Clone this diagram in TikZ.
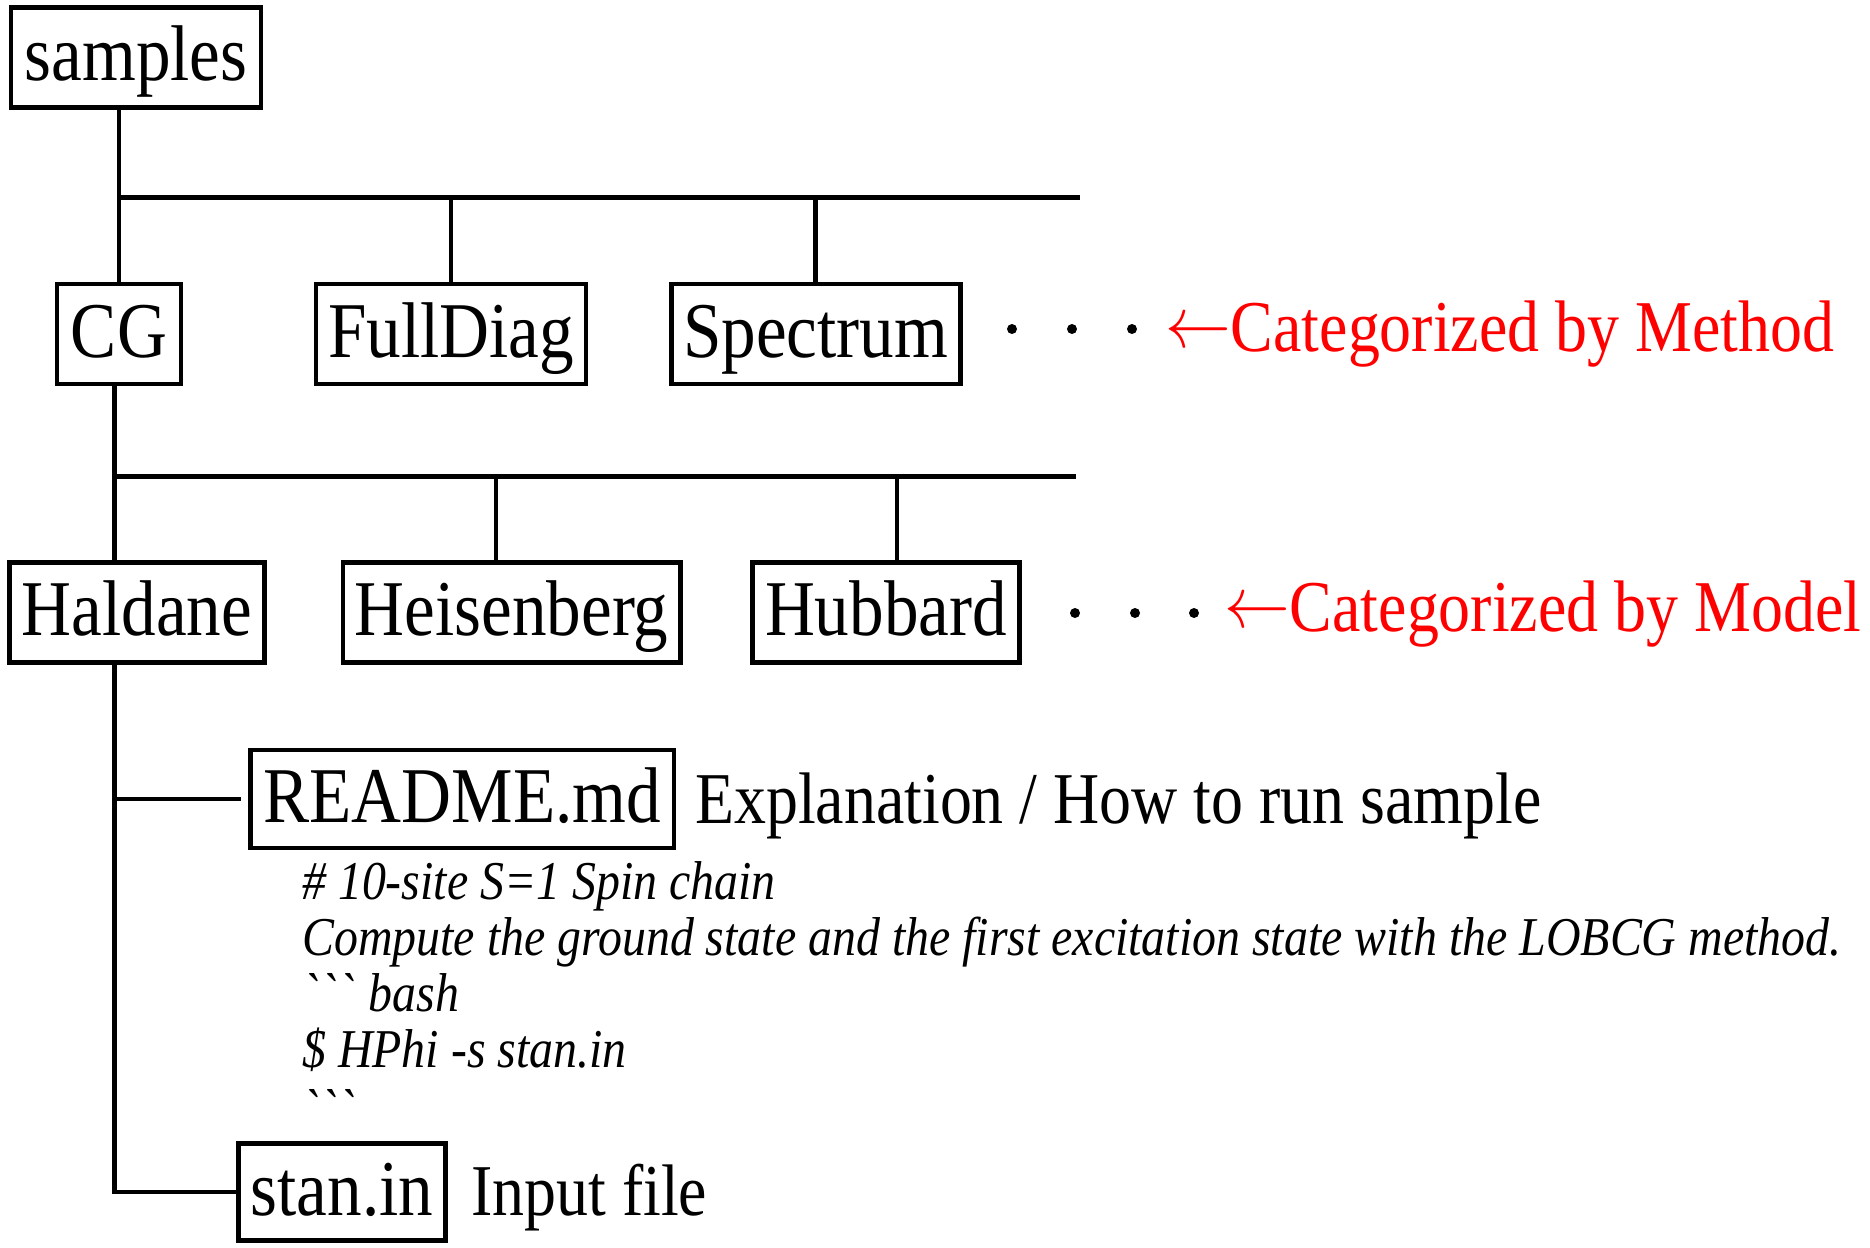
\RequirePackage{fix-cm}
\documentclass[tikz,border=0pt]{standalone}
\usepackage{graphicx}
\usepackage{fontspec}
\setmainfont[FakeStretch=0.875]{Liberation Serif}
\newcommand\boxfnt{\fontsize{79}{88}\selectfont}
\newcommand\lblfnt{\fontsize{73}{82}\selectfont}
\newcommand\mdfnt{\fontsize{54.7}{62}\selectfont\itshape}
\newcommand\larrow{\raisebox{4pt}{\scalebox{0.9}[1]{$\leftarrow$}}}
\begin{document}
\begin{tikzpicture}[x=1pt,y=-1pt,
 fbox/.style={draw, line width=4.8pt, inner xsep=0pt, inner ysep=0pt, font=\boxfnt,
   text height=62pt, text depth=16pt, minimum height=100pt, anchor=center},
 conn/.style={line width=4.6pt},
 busline/.style={line width=5pt},
 lbl/.style={font=\lblfnt, anchor=base west, inner sep=0pt},
 redlbl/.style={lbl, text=red},
 mdline/.style={font=\mdfnt, anchor=base west, inner sep=0pt},
 dotnode/.style={circle, fill, inner sep=0pt, minimum size=10pt}]
\useasboundingbox (0,0) rectangle (1870,1247);

% boxes
\node[fbox, minimum width=250pt] (samples) at (136,57.8) {samples};
\node[fbox, minimum width=124pt] (cg) at (119,334) {CG};
\node[fbox, minimum width=270pt] (fulldiag) at (451,334) {FullDiag};
\node[fbox, minimum width=289pt] (spectrum) at (815.7,334) {Spectrum};
\node[fbox, minimum width=255.4pt] (haldane) at (137,612.5) {Haldane};
\node[fbox, minimum width=337.4pt] (heis) at (511.6,612.5) {Heisenberg};
\node[fbox, minimum width=267.4pt] (hubbard) at (886,612.5) {Hubbard};
\node[fbox, minimum width=423.5pt, minimum height=98pt] (readme) at (462.3,799) {README.md};
\node[fbox, minimum width=206.5pt, minimum height=97pt] (stan) at (342,1192) {stan.in};

% buses
\coordinate (bus1s) at (119,197.5);
\coordinate (bus1e) at (1080,197.5);
\coordinate (bus2s) at (114.5,476);
\coordinate (bus2e) at (1076,476);
\coordinate (heisv) at (496,476);
\coordinate (hubv) at (897,476);

\draw[busline] (bus1s) -- (bus1e);
\draw[busline] (bus2s) -- (bus2e);

% connectors level 1
\draw[conn] (samples.south -| cg.north) -- (cg.north);
\draw[conn] (bus1s -| fulldiag.north) -- (fulldiag.north);
\draw[conn] (bus1s -| spectrum.north) -- (spectrum.north);

% connectors level 2
\draw[conn] (bus2s |- cg.south) -- (bus2s |- haldane.north);
\draw[conn] (heisv) -- (heisv |- heis.north);
\draw[conn] (hubv) -- (hubv |- hubbard.north);

% file tree
\draw[conn] (bus2s |- haldane.south) -- (bus2s |- stan.west) -- (stan.west);
\draw[conn, shorten >=7pt] (bus2s |- readme.west) -- (readme.west);

% dots
\node[dotnode] (d11) at (1012,329) {};
\node[dotnode] (d12) at (1072,329) {};
\node[dotnode] (d13) at (1132,329) {};
\node[dotnode] (d21) at (1075,613) {};
\node[dotnode] (d22) at (1135,613) {};
\node[dotnode] (d23) at (1194,613) {};

% labels
\node[redlbl] (method) at (1165,351) {\larrow Categorized by Method};
\node[redlbl] (model) at (1224,631) {\larrow Categorized by Model};
\node[lbl] (expl) at (695,823) {Explanation / How to run sample};
\node[lbl] (inp) at (471,1215) {Input file};

% README contents
\node[mdline] (md1) at (302,899) {\# 10-site S=1 Spin chain};
\node[mdline] (md2) at (302,955) {Compute the ground state and the first excitation state with the LOBCG method.};
\node[mdline] (md3) at (302,1011) {\textasciigrave\textasciigrave\textasciigrave\ bash};
\node[mdline] (md4) at (302,1067) {\$ HPhi -s stan.in};
\node[mdline] (md5) at (302,1127) {\textasciigrave\textasciigrave\textasciigrave};
\end{tikzpicture}
\end{document}
